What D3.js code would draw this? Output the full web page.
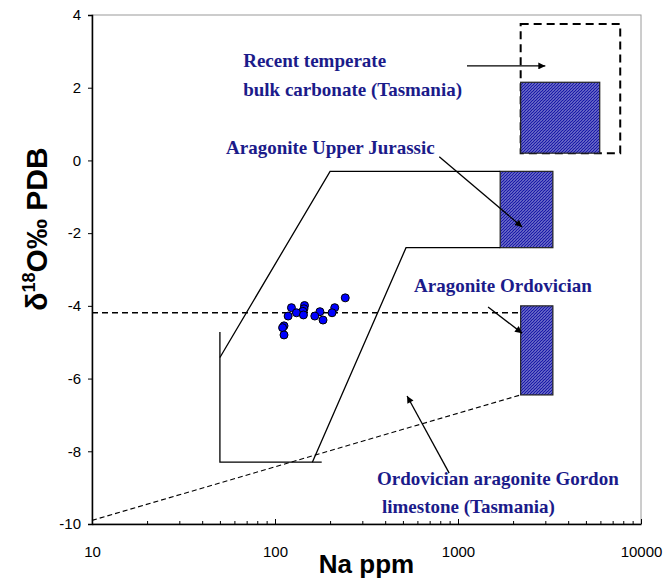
<!DOCTYPE html>
<html>
<head>
<meta charset="utf-8">
<script src="https://cdn.jsdelivr.net/npm/d3@7/dist/d3.min.js"></script>
<style>
  html, body { margin: 0; padding: 0; background: #fff; }
  svg { display: block; }
</style>
</head>
<body>
<svg id="chart" width="665" height="578"></svg>
<script>
// ---- data ----
const xTicks = [10, 100, 1000, 10000];
const yTicks = [-10, -8, -6, -4, -2, 0, 2, 4];
const naPpm   = [242, 123, 145, 144, 142, 131, 118, 143, 176, 165, 183, 212, 205, 112, 110, 112];
const d18O    = [-3.78, -4.05, -3.99, -4.08, -4.15, -4.19, -4.28, -4.25, -4.16, -4.28, -4.39, -4.05, -4.19, -4.55, -4.6, -4.8];

// field outlines (Na ppm, d18O)
const fieldLeft   = [[50, -4.72], [50, -8.3], [180, -8.3]];
const fieldUpper  = [[50, -5.42], [200, -0.3], [1700, -0.3]];
const fieldLower  = [[160, -8.3], [520, -2.4], [1700, -2.4]];
const meanLine    = [[10, -4.19], [2200, -4.19]];
const lowerTrend  = [[10, -9.9], [2200, -6.45]];

// boxes: [x0, x1, y0, y1]
const boxJurassic   = [1700, 3300, -2.4, -0.3];
const boxOrdovician = [2200, 3300, -6.45, -4.0];
const boxRecent     = [2200, 5950, 0.2, 2.15];
const boxRecentAll  = [2200, 7700, 0.2, 3.75];

// arrows: [from, to]
const arrows = [
  [[1120, 2.6], [3000, 2.6]],
  [[790, 0.1], [2240, -1.83]],
  [[1460, -4.03], [2240, -4.75]],
  [[895, -8.6], [527, -6.48]]
];

// labels: [text, Na anchor, d18O baseline]
const labels = [
  ["Recent temperate", 67, 2.57],
  ["bulk carbonate (Tasmania)", 67, 1.77],
  ["Aragonite Upper Jurassic", 54, 0.18],
  ["Aragonite Ordovician", 575, -3.62],
  ["Ordovician aragonite Gordon", 361, -8.93],
  ["limestone (Tasmania)", 384, -9.7]
];

// ---- drawing ----
const svg = d3.select("#chart");
const x = d3.scaleLog().domain([10, 10000]).range([92, 641]);
const y = d3.scaleLinear().domain([-10, 4]).range([524, 15]);

const defs = svg.append("defs");
const pat = defs.append("pattern")
  .attr("id", "hatch").attr("patternUnits", "userSpaceOnUse")
  .attr("width", 3).attr("height", 3);
pat.append("rect").attr("width", 3).attr("height", 3).attr("fill", "#ffffff");
pat.append("path").attr("d", "M-1,1 l2,-2 M0,3 l3,-3 M2,4 l2,-2")
  .attr("stroke", "#1818a8").attr("stroke-width", 1.6);

defs.append("marker").attr("id", "arr").attr("viewBox", "0 0 10 10")
  .attr("refX", 10).attr("refY", 5).attr("markerWidth", 10).attr("markerHeight", 7)
  .attr("markerUnits", "userSpaceOnUse").attr("orient", "auto")
  .append("path").attr("d", "M0,0 L10,5 L0,10 Z").attr("fill", "#000");

// plot frame
svg.append("rect").attr("x", x(10)).attr("y", y(4))
  .attr("width", x(10000) - x(10)).attr("height", y(-10) - y(4))
  .attr("fill", "none").attr("stroke", "#9a9a9a").attr("stroke-width", 1);

const line = d3.line().x(d => x(d[0])).y(d => y(d[1]));

// boxes
function box(b) {
  return svg.append("rect")
    .attr("x", x(b[0])).attr("y", y(b[3]))
    .attr("width", x(b[1]) - x(b[0])).attr("height", y(b[2]) - y(b[3]));
}
box(boxRecentAll).attr("fill", "none").attr("stroke", "#000").attr("stroke-width", 2).attr("stroke-dasharray", "8,5");
[boxJurassic, boxOrdovician, boxRecent].forEach(b =>
  box(b).attr("fill", "url(#hatch)").attr("stroke", "#222").attr("stroke-width", 1.2));

// field lines
[fieldLeft, fieldUpper, fieldLower].forEach(p =>
  svg.append("path").attr("d", line(p)).attr("fill", "none").attr("stroke", "#000").attr("stroke-width", 1.3));
svg.append("path").attr("d", line(meanLine)).attr("fill", "none").attr("stroke", "#000")
  .attr("stroke-width", 1.5).attr("stroke-dasharray", "6,4");
svg.append("path").attr("d", line(lowerTrend)).attr("fill", "none").attr("stroke", "#000")
  .attr("stroke-width", 1.1).attr("stroke-dasharray", "5,3");

// arrows
arrows.forEach(a =>
  svg.append("path").attr("d", line(a)).attr("fill", "none").attr("stroke", "#000")
    .attr("stroke-width", 1.3).attr("marker-end", "url(#arr)"));

// points
svg.append("g").selectAll("circle").data(naPpm).join("circle")
  .attr("cx", d => x(d)).attr("cy", (d, i) => y(d18O[i])).attr("r", 4)
  .attr("fill", "#0000ff").attr("stroke", "#000").attr("stroke-width", 1);

// labels
svg.append("g").selectAll("text").data(labels).join("text")
  .attr("x", d => x(d[1])).attr("y", d => y(d[2]))
  .style("font-family", "'Liberation Serif', 'Times New Roman', 'DejaVu Serif', serif")
  .attr("font-weight", "bold").attr("font-size", 19).attr("fill", "#1b1b8a")
  .text(d => d[0]);

// axes
const fmt = d => String(d);
const yAxis = d3.axisLeft(y).tickValues(yTicks).tickSize(4).tickPadding(7).tickFormat(fmt);
const gy = svg.append("g").attr("transform", `translate(${x(10)},0)`).call(yAxis);
gy.select(".domain").attr("stroke", "#000").attr("stroke-width", 1.5);
gy.selectAll("text").attr("font-family", "Arial, 'Liberation Sans', sans-serif").attr("font-size", 15).attr("fill", "#000");

const minor = [];
for (let e = 1; e < 4; e++) for (let k = 2; k < 10; k++) minor.push(k * Math.pow(10, e));
const gxm = svg.append("g").attr("transform", `translate(0,${y(-10)})`)
  .call(d3.axisBottom(x).tickValues(minor).tickSize(-3).tickFormat(""));
gxm.select(".domain").remove();
const xAxis = d3.axisBottom(x).tickValues(xTicks).tickSizeInner(-5).tickSizeOuter(0).tickPadding(22).tickFormat(fmt);
const gx = svg.append("g").attr("transform", `translate(0,${y(-10)})`).call(xAxis);
gx.select(".domain").attr("stroke", "#000").attr("stroke-width", 1.5);
gx.selectAll("text").attr("font-family", "Arial, 'Liberation Sans', sans-serif").attr("font-size", 15).attr("fill", "#000");

// axis titles
svg.append("text").attr("x", (x(10) + x(10000)) / 2).attr("y", 573)
  .attr("text-anchor", "middle").attr("font-family", "Arial, 'Liberation Sans', sans-serif")
  .attr("font-weight", "bold").attr("font-size", 26).text("Na ppm");

const yl = svg.append("text").attr("transform", "translate(47,229) rotate(-90)")
  .attr("text-anchor", "middle").attr("font-family", "Arial, 'Liberation Sans', sans-serif")
  .attr("font-weight", "bold").attr("font-size", 30);
yl.append("tspan").text("δ");
yl.append("tspan").attr("font-size", 18).attr("dy", -12).text("18");
yl.append("tspan").attr("dy", 12).text("O‰ PDB");
</script>
</body>
</html>
